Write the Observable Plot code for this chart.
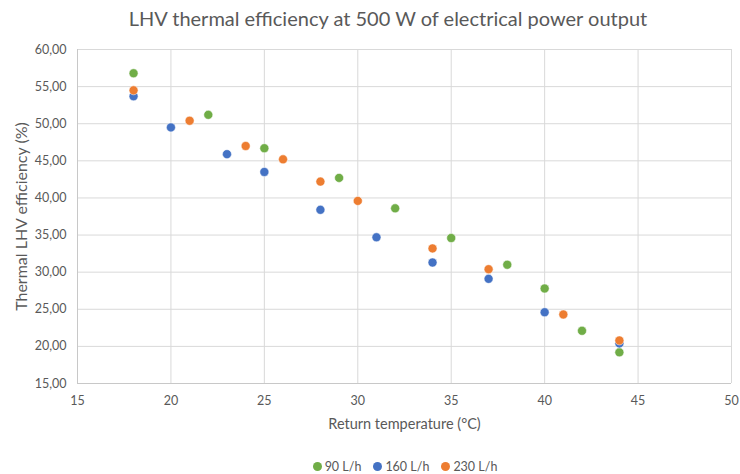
<!DOCTYPE html>
<html>
<head>
<meta charset="utf-8">
<script src="https://cdn.jsdelivr.net/npm/d3@7"></script>
<script src="https://cdn.jsdelivr.net/npm/@observablehq/plot@0.6"></script>
<style>
  html, body { margin: 0; padding: 0; background: #fff; }
  body { width: 740px; height: 474px; overflow: hidden; font-family: Lato, "Open Sans", sans-serif; color: #595959; }
  #title { height: 36px; line-height: 36px; font-size: 20px; text-align: center; padding-left: 36px; white-space: nowrap; }
  #legend { height: 34px; display: flex; justify-content: center; align-items: center; padding-left: 70px; font-size: 12.5px; box-sizing: border-box; padding-top: 18px; }
  .item { display: flex; align-items: center; margin: 0 6px; }
  .sw { width: 9px; height: 9px; border-radius: 50%; margin-right: 3px; display: inline-block; }
</style>
</head>
<body>
<div id="title">LHV thermal efficiency at 500 W of electrical power output</div>
<div id="chart"></div>
<div id="legend"></div>
<script>
// Series names and colours
const seriesNames = ["90 L/h", "160 L/h", "230 L/h"];
const seriesColors = ["#70AD47", "#4472C4", "#ED7D31"];

// 90 L/h
const temp90 = [18, 22, 25, 29, 32, 35, 38, 40, 42, 44];
const eff90  = [56.8, 51.2, 46.7, 42.7, 38.6, 34.6, 31.0, 27.8, 22.1, 19.2];
// 160 L/h
const temp160 = [18, 20, 23, 25, 28, 31, 34, 37, 40, 44];
const eff160  = [53.7, 49.5, 45.9, 43.5, 38.4, 34.7, 31.3, 29.1, 24.6, 20.4];
// 230 L/h
const temp230 = [18, 21, 24, 26, 28, 30, 34, 37, 41, 44];
const eff230  = [54.5, 50.4, 47.0, 45.2, 42.2, 39.6, 33.2, 30.4, 24.3, 20.8];

// Axis ticks
const xTicks = [15, 20, 25, 30, 35, 40, 45, 50];
const yTicks = [15, 20, 25, 30, 35, 40, 45, 50, 55, 60];

const xLabel = "Return temperature (°C)";
const yLabel = "Thermal LHV efficiency (%)";

const seriesTemps = [temp90, temp160, temp230];
const seriesEffs = [eff90, eff160, eff230];
const data = [];
seriesNames.forEach((name, i) => {
  seriesTemps[i].forEach((t, j) => data.push({series: name, temp: t, eff: seriesEffs[i][j]}));
});

const fmt = d => d.toFixed(2).replace(".", ",");

const chart = Plot.plot({
  width: 740,
  height: 404,
  marginLeft: 77,
  marginRight: 9,
  marginTop: 13,
  marginBottom: 57,
  style: {fontFamily: "Lato, 'Open Sans', sans-serif", fontSize: "12.5px", color: "#595959", background: "#fff"},
  x: {domain: [15, 50]},
  y: {domain: [15, 60]},
  color: {domain: seriesNames, range: seriesColors},
  marks: [
    Plot.gridX(xTicks, {stroke: "#D9D9D9", strokeOpacity: 1}),
    Plot.gridY(yTicks, {stroke: "#D9D9D9", strokeOpacity: 1}),
    Plot.ruleX([15], {stroke: "#C8C8C8"}),
    Plot.ruleY([15], {stroke: "#C8C8C8"}),
    Plot.axisX(xTicks, {tickSize: 0, tickPadding: 13, label: null, fill: "#595959"}),
    Plot.axisY(yTicks, {tickSize: 0, tickPadding: 11, label: null, tickFormat: fmt, fill: "#595959"}),
    Plot.dot(data, {x: "temp", y: "eff", fill: "series", r: 4.5, stroke: "white", strokeWidth: 0.5}),
    Plot.text([xLabel], {frameAnchor: "bottom", dy: 45, fontSize: 14.5, fill: "#595959"}),
    Plot.text([yLabel], {frameAnchor: "left", textAnchor: "middle", dx: -56, dy: 0, rotate: -90, fontSize: 16, fill: "#595959"})
  ]
});
document.getElementById("chart").appendChild(chart);

const legend = document.getElementById("legend");
seriesNames.forEach((name, i) => {
  const item = document.createElement("span");
  item.className = "item";
  const sw = document.createElement("span");
  sw.className = "sw";
  sw.style.background = seriesColors[i];
  item.appendChild(sw);
  item.appendChild(document.createTextNode(name));
  legend.appendChild(item);
});
</script>
</body>
</html>
